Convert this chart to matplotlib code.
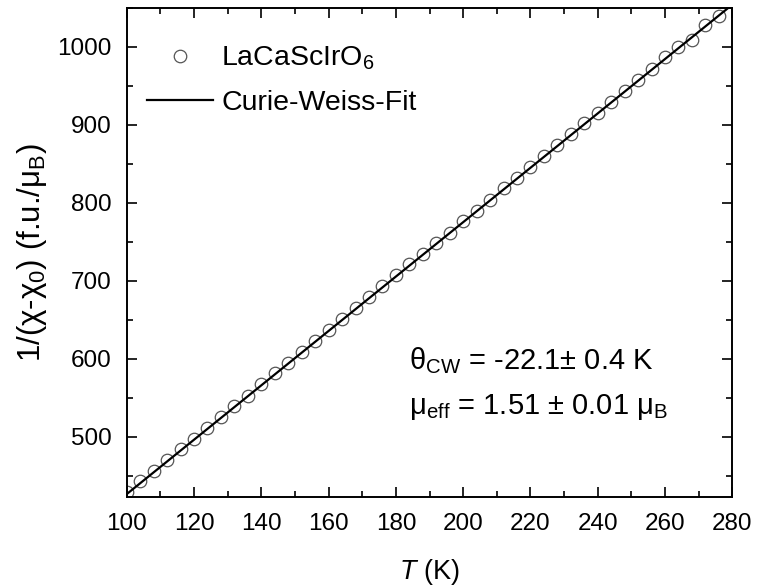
import numpy as np
import matplotlib
matplotlib.use("Agg")
import matplotlib.pyplot as plt
from matplotlib.ticker import MultipleLocator

plt.rcParams['font.family'] = ['Liberation Sans', 'DejaVu Sans']
plt.rcParams['mathtext.fontset'] = 'custom'
plt.rcParams['mathtext.rm'] = 'Liberation Sans'
plt.rcParams['mathtext.it'] = 'Liberation Sans:italic'

# inverse susceptibility, measured every 4 K
temperature = [100, 104, 108, 112, 116, 120, 124, 128, 132, 136,
               140, 144, 148, 152, 156, 160, 164, 168, 172, 176,
               180, 184, 188, 192, 196, 200, 204, 208, 212, 216,
               220, 224, 228, 232, 236, 240, 244, 248, 252, 256,
               260, 264, 268, 272, 276]
inv_chi = [428.9, 443.0, 455.9, 470.1, 483.8, 497.4, 511.6, 525.7, 538.6, 552.3,
           567.4, 581.0, 595.0, 609.0, 622.9, 636.8, 650.5, 664.8, 678.6, 692.8,
           707.0, 721.0, 734.4, 748.4, 761.8, 776.4, 789.9, 803.9, 818.5, 832.2,
           846.0, 860.1, 873.8, 888.0, 901.9, 915.6, 930.0, 944.0, 958.0, 972.0,
           986.5, 1000.0, 1009.5, 1028.5, 1039.5]

# Curie-Weiss fit: 1/chi = (T - theta) / C
theta_cw = -22.1
fit_slope = 3.49
fit_T = np.array([98.0, 282.0])
fit_y = fit_slope * (fit_T - theta_cw)

fig = plt.figure(figsize=(7.57, 5.88), dpi=100)
ax = fig.add_axes([0.1674, 0.1542, 0.8, 0.8322])

ax.plot(temperature, inv_chi, 'o', mfc='none', mec='#555555', ms=9, mew=0.9,
        label=r'LaCaScIrO$_6$')
ax.plot(fit_T, fit_y, '-', color='black', lw=1.6, label='Curie-Weiss-Fit')

ax.set_xlim(100, 280)
ax.set_ylim(422, 1050)
ax.xaxis.set_major_locator(MultipleLocator(20))
ax.xaxis.set_minor_locator(MultipleLocator(10))
ax.yaxis.set_major_locator(MultipleLocator(100))
ax.yaxis.set_minor_locator(MultipleLocator(50))
ax.tick_params(which='both', direction='in', top=True, right=True, width=1.2)
ax.tick_params(which='major', length=7, labelsize=17.5, pad=11)
ax.tick_params(which='minor', length=4)
for sp in ax.spines.values():
    sp.set_linewidth(1.4)

ax.set_xlabel(r'$T$ (K)', fontsize=19.5, labelpad=16)
ax.set_ylabel(r'1/(χ-χ$_0$) (f.u./μ$_\mathrm{B}$)', fontsize=22.5, labelpad=6)

ax.legend(loc='upper left', bbox_to_anchor=(-0.004, 0.972), frameon=False,
          fontsize=20.5, handlelength=2.3, handletextpad=0.3, labelspacing=0.62,
          borderaxespad=0.4)

ax.text(0.466, 0.28, r'θ$_\mathrm{CW}$ = -22.1± 0.4 K', transform=ax.transAxes,
        fontsize=21, va='center')
ax.text(0.466, 0.185, r'μ$_\mathrm{eff}$ = 1.51 ± 0.01 μ$_\mathrm{B}$', transform=ax.transAxes,
        fontsize=21, va='center')

fig.savefig('out.png', dpi=100)
